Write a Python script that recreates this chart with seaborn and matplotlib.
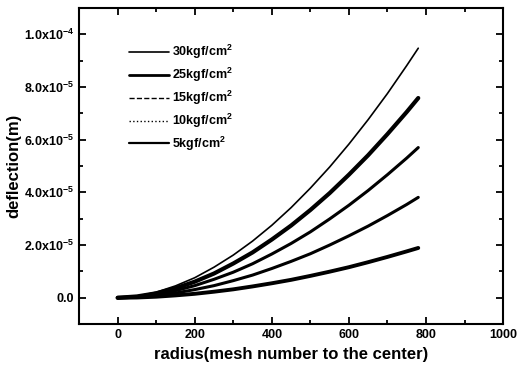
import numpy as np
import pandas as pd
import seaborn as sns
import matplotlib.pyplot as plt
from matplotlib.lines import Line2D
from matplotlib.ticker import MultipleLocator

# radius positions (mesh number) and deflection values in units of 1e-4 m
radius = [0, 50, 100, 150, 200, 250, 300, 350, 400, 450, 500, 550, 600, 650, 700, 750, 780]
p30 = [0, .006, .021, .045, .076, .116, .162, .215, .275, .342, .416, .496, .583, .676, .775, .881, .947]
p25 = [0, .005, .017, .036, .061, .092, .130, .172, .221, .274, .333, .397, .467, .541, .621, .705, .758]
p15 = [0, .004, .013, .027, .046, .070, .097, .129, .166, .206, .250, .299, .351, .407, .467, .530, .570]
p10 = [0, .002, .009, .018, .031, .046, .065, .086, .111, .138, .167, .200, .235, .272, .312, .354, .381]
p5 = [0, .001, .004, .009, .015, .023, .032, .043, .055, .068, .083, .099, .116, .135, .155, .176, .189]
labels = ['30kgf/cm$^2$', '25kgf/cm$^2$', '15kgf/cm$^2$', '10kgf/cm$^2$', '5kgf/cm$^2$']

sns.set_style('ticks')
plt.rcParams['font.family'] = ['Liberation Sans', 'DejaVu Sans']
plt.rcParams['font.weight'] = 'bold'
plt.rcParams['mathtext.default'] = 'regular'
for k in ['text.color', 'axes.labelcolor', 'xtick.color', 'ytick.color', 'axes.edgecolor']:
    plt.rcParams[k] = 'black'

rows = []
for lab, vals in zip(labels, [p30, p25, p15, p10, p5]):
    for r, v in zip(radius, vals):
        rows.append({'radius': r, 'deflection': v * 1e-4, 'pressure': lab})
df = pd.DataFrame(rows)

fig = plt.figure(figsize=(5.24, 3.76), dpi=100)
ax = fig.add_axes([0.151, 0.138, 0.809, 0.841])

widths = [1.2, 3.0, 2.2, 2.2, 2.8]
for lab, lw in zip(labels, widths):
    sns.lineplot(data=df[df['pressure'] == lab], x='radius', y='deflection',
                 color='black', lw=lw, ax=ax, legend=False)

ax.set_xlim(-100, 1000)
ax.set_ylim(-1e-5, 1.1e-4)
ax.set_xticks([0, 200, 400, 600, 800, 1000])
ax.xaxis.set_minor_locator(MultipleLocator(100))
yt = [0, 2e-5, 4e-5, 6e-5, 8e-5, 1e-4]
ax.set_yticks(yt)
ax.set_yticklabels(['0.0', '2.0x10$^{-5}$', '4.0x10$^{-5}$', '6.0x10$^{-5}$',
                    '8.0x10$^{-5}$', '1.0x10$^{-4}$'])
ax.yaxis.set_minor_locator(MultipleLocator(1e-5))
ax.tick_params(which='both', direction='in', top=True, right=True, labelsize=9, width=1.3)
ax.tick_params(which='major', length=5)
ax.tick_params(which='minor', length=3)
for s in ax.spines.values():
    s.set_linewidth(1.5)

ax.set_xlabel('radius(mesh number to the center)', fontsize=12, fontweight='bold')
ax.set_ylabel('deflection(m)', fontsize=12, fontweight='bold', labelpad=2)

styles = [('-', 1.2), ('-', 2.0), ('--', 1.0), (':', 1.0), ('-', 1.6)]
handles = [Line2D([], [], color='black', ls=ls, lw=lw) for ls, lw in styles]
ax.legend(handles, labels, loc='upper left', bbox_to_anchor=(0.09, 0.925),
          frameon=False, fontsize=9, handlelength=3.2, labelspacing=0.38,
          handletextpad=0.3)

fig.savefig('out.png', dpi=100)
